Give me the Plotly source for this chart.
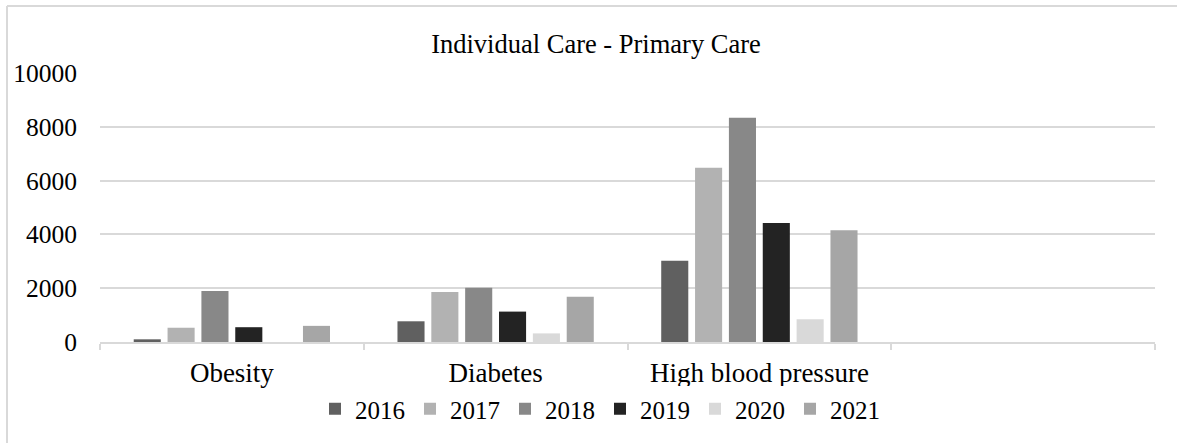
import plotly.graph_objects as go

CATEGORIES = ["Obesity", "Diabetes", "High blood pressure", " "]
YEARS = ["2016", "2017", "2018", "2019", "2020", "2021"]
VALUES_2016 = [100, 770, 3020, None]
VALUES_2017 = [530, 1860, 6480, None]
VALUES_2018 = [1900, 2020, 8340, None]
VALUES_2019 = [550, 1130, 4420, None]
VALUES_2020 = [0, 320, 845, None]
VALUES_2021 = [600, 1685, 4150, None]
Y_TICKS = [0, 2000, 4000, 6000, 8000, 10000]
Y_TICK_TEXT = ["0", "2000", "4000", "6000", "8000", "10000"]

COLORS = ["#606060", "#b2b2b2", "#888888", "#232323", "#d9d9d9", "#a6a6a6"]
GRID = "#d9d9d9"
FONT = "Liberation Serif"

series = [VALUES_2016, VALUES_2017, VALUES_2018, VALUES_2019, VALUES_2020, VALUES_2021]

fig = go.Figure()
for year, vals, color in zip(YEARS, series, COLORS):
    fig.add_trace(
        go.Bar(
            x=CATEGORIES,
            y=vals,
            name=year,
            marker_color=color,
            marker_line_width=0,
        )
    )

W, H = 1177, 443
L, R, T, B = 100, 22, 73, 101
pw, ph = W - L - R, H - T - B


def px_x(p):
    return (p - L) / pw


def px_y(p):
    return (H - B - p) / ph


fig.update_layout(
    width=W,
    height=H,
    barmode="group",
    bargap=0.23,
    bargroupgap=0.2,
    paper_bgcolor="white",
    plot_bgcolor="white",
    font=dict(family=FONT, size=26, color="black"),
    margin=dict(l=L, r=R, t=T, b=B, autoexpand=False),
    title=dict(
        text="Individual Care - Primary Care",
        x=596 / W,
        xanchor="center",
        y=1 - 44 / H,
        yanchor="middle",
        font=dict(family=FONT, size=26.5, color="black"),
    ),
    legend=dict(
        orientation="h",
        x=px_x(600),
        xanchor="center",
        y=px_y(409),
        yanchor="middle",
        font=dict(family=FONT, size=25, color="black"),
        itemwidth=30,
        traceorder="normal",
    ),
    showlegend=True,
    shapes=[
        dict(type="line", xref="paper", yref="paper",
             x0=px_x(7), x1=px_x(1200), y0=px_y(6), y1=px_y(6),
             line=dict(color=GRID, width=2)),
        dict(type="line", xref="paper", yref="paper",
             x0=px_x(7), x1=px_x(7), y0=px_y(6), y1=px_y(460),
             line=dict(color=GRID, width=2)),
    ],
)
fig.update_xaxes(
    type="category",
    categoryorder="array",
    categoryarray=CATEGORIES,
    range=[-0.5, 3.5],
    tickson="boundaries",
    ticks="outside",
    ticklen=6,
    tickcolor=GRID,
    tickwidth=1.5,
    showline=True,
    linecolor=GRID,
    linewidth=1.5,
    showgrid=False,
    ticklabelstandoff=6,
    tickfont=dict(family=FONT, size=27, color="black"),
)
fig.update_yaxes(
    range=[0, 10000],
    tickvals=Y_TICKS,
    ticktext=Y_TICK_TEXT,
    showgrid=True,
    gridcolor=GRID,
    gridwidth=1.5,
    zeroline=False,
    showline=False,
    ticks="",
    ticklabelstandoff=22,
    tickfont=dict(family=FONT, size=25.5, color="black"),
)

# the page's default body margin would push the figure 8px off the corner
fig.write_html(
    "out.html",
    config={"displayModeBar": False},
    post_script="document.body.style.margin = '0';",
)
